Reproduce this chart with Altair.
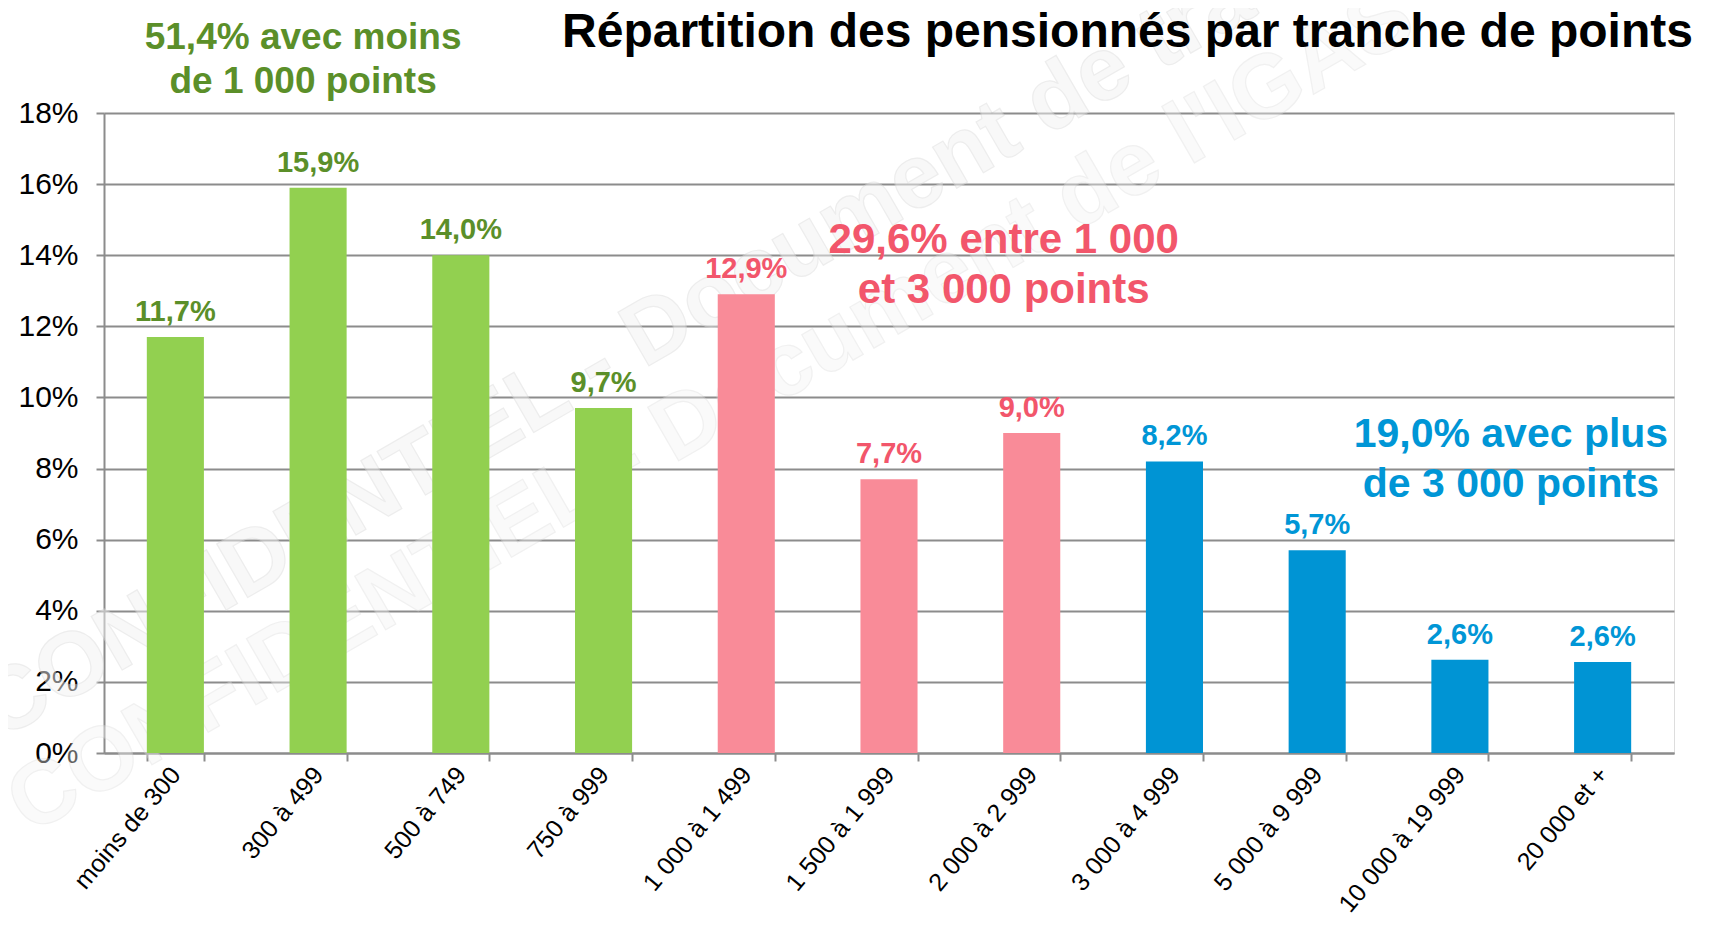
import altair as alt
import pandas as pd

categories = ["moins de 300", "300 à 499", "500 à 749", "750 à 999",
              "1 000 à 1 499", "1 500 à 1 999", "2 000 à 2 999",
              "3 000 à 4 999", "5 000 à 9 999", "10 000 à 19 999", "20 000 et +"]
values = [11.7, 15.9, 14.0, 9.7, 12.9, 7.7, 9.0, 8.2, 5.7, 2.62, 2.56]
groups = ["moins", "moins", "moins", "moins",
          "entre", "entre", "entre",
          "plus", "plus", "plus", "plus"]
y_ticks = [0, 2, 4, 6, 8, 10, 12, 14, 16, 18]

group_domain = ["moins", "entre", "plus"]
bar_colors = ["#92D050", "#F98B98", "#0094D4"]
text_colors = ["#5B8F29", "#F2566B", "#0096D6"]

FONT = "Liberation Sans, Arial, sans-serif"
GRID = "#8c8c8c"

df = pd.DataFrame({"cat": categories, "v": values, "g": groups})

x_enc = alt.X("cat:N", sort=categories, title=None,
              scale=alt.Scale(paddingInner=0.6, paddingOuter=0.3),
              axis=alt.Axis(labelAngle=-50, labelFontSize=25, labelFont=FONT,
                            labelColor="black", tickBand="extent", tickSize=8,
                            tickColor=GRID, tickWidth=2, domainColor=GRID,
                            domainWidth=2, labelPadding=9, labelLimit=0,
                            grid=False))
y_enc = alt.Y("v:Q", title=None,
              scale=alt.Scale(domain=[0, 18], nice=False),
              axis=alt.Axis(values=y_ticks, labelExpr="datum.value + '%'",
                            labelFontSize=30, labelFont=FONT, labelColor="black",
                            grid=True, gridColor=GRID, gridWidth=2,
                            tickSize=8, tickColor=GRID, tickWidth=2,
                            domainColor=GRID, domainWidth=2, labelPadding=18))


def annot(lines, cat, vs, dx, size, color, weight="bold", angle=0,
          fill_stroke=None, opacity=1):
    d = pd.DataFrame({"cat": [cat] * len(lines), "v": vs, "t": lines})
    kw = dict(align="center", baseline="alphabetic", dx=dx, fontSize=size,
              font=FONT, fontWeight=weight, color=color, angle=angle,
              opacity=opacity)
    if fill_stroke:
        kw.update(stroke=fill_stroke, strokeWidth=1.2)
    return alt.Chart(d).mark_text(**kw).encode(
        x=alt.X("cat:N", sort=categories),
        y=alt.Y("v:Q"),
        text="t:N")


watermark1 = annot(["CONFIDENTIEL - Document de travail"], "750 à 999", [10.15],
                   105, 90, "#f3f3f3", angle=330, fill_stroke="#dcdcdc",
                   opacity=0.5)
watermark2 = annot(["CONFIDENTIEL - Document de l'IGAS"], "750 à 999", [7.0],
                   140, 90, "#f3f3f3", angle=330, fill_stroke="#dcdcdc",
                   opacity=0.4)

bars = alt.Chart(df).mark_bar().encode(
    x=x_enc, y=y_enc,
    color=alt.Color("g:N", scale=alt.Scale(domain=group_domain, range=bar_colors),
                    legend=None))

labels = alt.Chart(df).transform_calculate(
    lab="replace(format(datum.v, '.1f'), '.', ',') + '%'"
).mark_text(baseline="alphabetic", dy=-16, fontSize=29, fontWeight="bold",
            font=FONT).encode(
    x=alt.X("cat:N", sort=categories),
    y="v:Q",
    text="lab:N",
    color=alt.Color("g:N", scale=alt.Scale(domain=group_domain, range=text_colors),
                    legend=None))

title = annot(["Répartition des pensionnés par tranche de points"],
              "3 000 à 4 999", [19.87], -47, 48, "black")
green = annot(["51,4% avec moins", "de 1 000 points"], "300 à 499",
              [19.8, 18.56], -15, 37, text_colors[0])
pink = annot(["29,6% entre 1 000", "et 3 000 points"], "2 000 à 2 999",
             [14.06, 12.65], -28, 42, text_colors[1])
blue = annot(["19,0% avec plus", "de 3 000 points"], "10 000 à 19 999",
             [8.6, 7.2], 51, 41, text_colors[2])

chart = alt.layer(watermark1, watermark2, bars, labels, title, green, pink, blue).resolve_scale(
    color="independent"
).properties(
    width=1570, height=640,
    autosize=alt.AutoSizeParams(type="none"),
    padding={"left": 96, "top": 105, "right": 27, "bottom": 168},
).configure_view(stroke=None).configure(background="white")

chart.save("out.html", embed_options={"renderer": "svg", "actions": False})
